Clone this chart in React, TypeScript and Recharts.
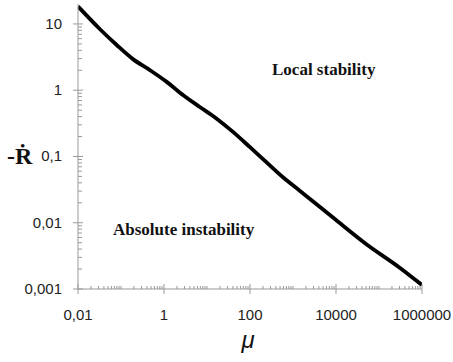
import React from 'react';
import { LineChart, Line, XAxis, YAxis, Customized } from 'recharts';

const mu = [0.01, 0.0325, 0.0794, 0.193, 0.47, 1.156, 2.81, 6.8, 16.8, 40.9, 100, 240, 585, 1432, 8510, 50900, 303000, 1000000];
const rDot = [18.4, 8.32, 4.81, 2.92, 2.01, 1.336, 0.839, 0.558, 0.372, 0.233, 0.138, 0.082, 0.0485, 0.0305, 0.012, 0.00475, 0.0021, 0.00115];

const xMajor = [0.01, 1, 100, 10000, 1000000];
const xMajorLabels = ['0,01', '1', '100', '10000', '1000000'];
const yMajor = [0.001, 0.01, 0.1, 1, 10];
const yMajorLabels = ['0,001', '0,01', '0,1', '1', '10'];

const minorMult = [2, 3, 4, 5, 6, 7, 8, 9];
const xTicks: number[] = [];
for (let e = -2; e < 6; e++) {
  xTicks.push(Math.pow(10, e));
  for (const m of minorMult) xTicks.push(parseFloat((m * Math.pow(10, e)).toPrecision(3)));
}
xTicks.push(1000000);
const yTicks: number[] = [];
for (let e = -3; e < 1; e++) {
  yTicks.push(Math.pow(10, e));
  for (const m of minorMult) yTicks.push(parseFloat((m * Math.pow(10, e)).toPrecision(3)));
}
yTicks.push(10);

const data = mu.map((m, i) => ({ mu: m, r: rDot[i] }));

const sans = '"Liberation Sans", Arial, sans-serif';
const serif = '"Liberation Serif", "Times New Roman", serif';
const axisColor = '#999';

const XTick = (props: any) => {
  const { x, y, payload } = props;
  const v = payload.value;
  const idx = xMajor.findIndex((t) => Math.abs(t - v) / t < 1e-6);
  if (idx >= 0) {
    return (
      <g>
        <line x1={x} x2={x} y1={y - 5} y2={y + 5} stroke={axisColor} strokeWidth={1} />
        <text x={x} y={y + 31} textAnchor="middle" fontFamily={sans} fontSize={15} fill="#222">
          {xMajorLabels[idx]}
        </text>
      </g>
    );
  }
  return <line x1={x} x2={x} y1={y - 3} y2={y} stroke={axisColor} strokeWidth={1} />;
};

const YTick = (props: any) => {
  const { x, y, payload } = props;
  const v = payload.value;
  const idx = yMajor.findIndex((t) => Math.abs(t - v) / t < 1e-6);
  if (idx >= 0) {
    return (
      <g>
        <line x1={x - 5} x2={x + 5} y1={y} y2={y} stroke={axisColor} strokeWidth={1} />
        <text x={x - 16} y={y + 5} textAnchor="end" fontFamily={sans} fontSize={15} fill="#222">
          {yMajorLabels[idx]}
        </text>
      </g>
    );
  }
  return <line x1={x} x2={x + 4} y1={y} y2={y} stroke={axisColor} strokeWidth={1} />;
};

const Annotations = () => (
  <g>
    <text x={272} y={75} fontFamily={serif} fontWeight="bold" fontSize={17} fill="#111">
      Local stability
    </text>
    <text x={113} y={235} fontFamily={serif} fontWeight="bold" fontSize={17} fill="#111">
      Absolute instability
    </text>
    <text x={7} y={164} fontFamily={serif} fontWeight="bold" fontSize={24} fill="#111">
      -Ṙ
    </text>
    <text x={248} y={348} textAnchor="middle" fontFamily={sans} fontStyle="italic" fontSize={24} fill="#111">
      μ
    </text>
  </g>
);

export default function App() {
  return (
    <div style={{ position: 'absolute', left: 0, top: 0, width: 453, height: 362, background: '#fff' }}>
      <LineChart width={453} height={362} data={data} margin={{ top: 4, right: 31, bottom: 0, left: 0 }}>
        <XAxis
          xAxisId="top"
          orientation="top"
          dataKey="mu"
          type="number"
          scale="log"
          domain={[0.01, 1000000]}
          height={0}
          tick={false}
          tickLine={false}
          axisLine={{ stroke: '#e2e2e2' }}
        />
        <YAxis
          yAxisId="right"
          orientation="right"
          type="number"
          scale="log"
          domain={[0.001, 20]}
          width={0}
          tick={false}
          tickLine={false}
          axisLine={{ stroke: '#bbb', strokeWidth: 1.5 }}
        />
        <XAxis
          dataKey="mu"
          type="number"
          scale="log"
          domain={[0.01, 1000000]}
          allowDataOverflow
          ticks={xTicks}
          interval={0}
          height={73}
          tickSize={0}
          tickMargin={0}
          tickLine={false}
          axisLine={{ stroke: axisColor }}
          tick={<XTick />}
        />
        <YAxis
          type="number"
          scale="log"
          domain={[0.001, 20]}
          allowDataOverflow
          ticks={yTicks}
          interval={0}
          width={78}
          tickSize={0}
          tickMargin={0}
          tickLine={false}
          axisLine={{ stroke: axisColor }}
          tick={<YTick />}
        />
        <Line
          type="monotone"
          dataKey="r"
          stroke="#000"
          strokeWidth={3.8}
          dot={false}
          isAnimationActive={false}
        />
        <Customized component={Annotations} />
      </LineChart>
    </div>
  );
}
